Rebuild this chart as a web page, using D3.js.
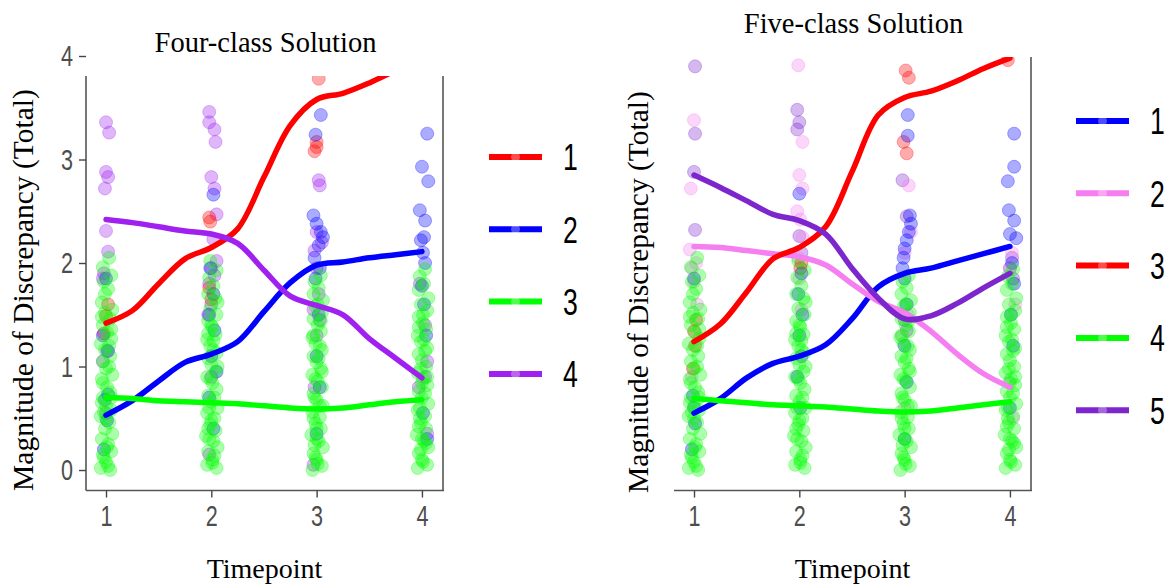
<!DOCTYPE html>
<html lang="en">
<head>
<meta charset="utf-8">
<title>Latent class trajectories</title>
<style>
  * { margin: 0; padding: 0; box-sizing: border-box; }
  body { background: #fff; overflow: hidden; }
  svg { display: block; }
  .serif { font-family: "Liberation Serif", "Times New Roman", serif; fill: #000; }
  .tick text { font-family: "Liberation Sans", Arial, sans-serif; fill: #4d4d4d; }
  .leg-label { font-family: "Liberation Sans", Arial, sans-serif; fill: #000; }
</style>
</head>
<body>
<svg id="chart" width="1165" height="587"></svg>
<script src="https://cdn.jsdelivr.net/npm/d3@7"></script>
<script>
// ---- data ----
const timepoints = [1, 2, 3, 4];
const yTicks = [0, 1, 2, 3, 4];
// smoothed class means, sampled every quarter timepoint
const curveT = [1, 1.25, 1.5, 1.75, 2, 2.25, 2.5, 2.75, 3, 3.25, 3.5, 3.75, 4];

const fourLabels = ["1", "2", "3", "4"];
const fourColors = ["#ff0000", "#0000ff", "#00ff00", "#a020f0"];
const four1 = [1.42, 1.54, 1.80, 2.04, 2.15, 2.33, 2.83, 3.33, 3.58, 3.64, 3.74, 3.86, 3.97];
const four2 = [0.53, 0.67, 0.86, 1.04, 1.12, 1.24, 1.53, 1.81, 1.98, 2.01, 2.05, 2.08, 2.11];
const four3 = [0.70, 0.69, 0.67, 0.66, 0.65, 0.64, 0.62, 0.60, 0.59, 0.60, 0.63, 0.66, 0.68];
const four4 = [2.42, 2.39, 2.35, 2.31, 2.28, 2.19, 1.93, 1.68, 1.59, 1.50, 1.27, 1.08, 0.89];

const fiveLabels = ["1", "2", "3", "4", "5"];
const fiveColors = ["#0000ff", "#f57ef0", "#ff0000", "#00ff00", "#7d26cd"];
const five1 = [0.55, 0.69, 0.89, 1.03, 1.10, 1.21, 1.46, 1.77, 1.90, 1.95, 2.02, 2.09, 2.16];
const five2 = [2.16, 2.15, 2.12, 2.09, 2.06, 1.98, 1.80, 1.63, 1.52, 1.34, 1.12, 0.93, 0.80];
const five3 = [1.24, 1.41, 1.72, 2.04, 2.15, 2.35, 2.88, 3.43, 3.60, 3.66, 3.76, 3.88, 3.98];
const five4 = [0.69, 0.67, 0.65, 0.63, 0.62, 0.61, 0.59, 0.57, 0.56, 0.57, 0.60, 0.63, 0.66];
const five5 = [2.85, 2.73, 2.60, 2.47, 2.41, 2.28, 1.95, 1.66, 1.46, 1.49, 1.61, 1.76, 1.90];

// individual observations: [jittered timepoint, value]
const greenObs = [
  [0.95,0.02],[1.04,0.00],[1.00,0.08],[0.97,0.15],[1.05,0.18],[1.02,0.25],[0.96,0.30],[1.06,0.35],[0.99,0.40],[1.03,0.46],
  [0.95,0.52],[1.05,0.58],[1.00,0.62],[0.97,0.70],[1.04,0.75],[1.01,0.80],[0.96,0.88],[1.06,0.92],[1.00,0.98],[0.97,1.05],
  [1.04,1.10],[0.99,1.16],[0.95,1.22],[1.05,1.27],[1.01,1.33],[0.97,1.40],[1.04,1.46],[0.99,1.52],[1.06,1.55],[0.96,1.62],
  [1.02,1.75],[0.98,1.82],[1.05,1.88],[0.97,1.96],[1.03,2.05],[1.00,0.50],[0.98,0.12],[1.03,1.00],[0.96,0.65],[1.05,1.36],
  [1.01,0.22],[0.97,0.84],[1.03,1.20],[0.99,1.70],[1.02,0.04],[0.98,0.56],[1.05,0.70],[0.96,1.48],
  [1.96,0.05],[2.05,0.02],[2.01,0.10],[1.97,0.18],[2.06,0.22],[2.02,0.28],[1.95,0.33],[2.04,0.38],[1.99,0.44],[2.03,0.50],
  [1.96,0.55],[2.06,0.60],[2.00,0.66],[1.97,0.72],[2.05,0.78],[2.01,0.84],[1.96,0.90],[2.04,0.95],[2.00,1.02],[1.97,1.08],
  [2.05,1.13],[1.99,1.20],[1.96,1.26],[2.04,1.31],[2.01,1.38],[1.97,1.44],[2.05,1.50],[1.99,1.56],[2.06,1.62],[1.97,1.70],
  [2.02,1.78],[1.98,1.86],[2.05,1.93],[1.99,2.02],[2.03,0.14],[1.98,0.60],[2.02,1.25],[1.97,0.40],[2.06,1.00],[2.00,1.40],
  [2.01,0.07],[1.98,0.30],[2.03,0.70],[1.99,0.88],[2.02,1.16],[1.97,1.32],[2.04,1.66],[2.00,0.48],
  [2.96,0.00],[3.05,0.04],[3.00,0.10],[2.97,0.16],[3.06,0.22],[3.02,0.28],[2.95,0.34],[3.04,0.40],[2.99,0.45],[3.03,0.51],
  [2.96,0.56],[3.06,0.62],[3.00,0.68],[2.97,0.74],[3.05,0.80],[3.01,0.86],[2.96,0.92],[3.04,0.98],[3.00,1.04],[2.97,1.10],
  [3.05,1.16],[2.99,1.22],[2.96,1.28],[3.04,1.34],[3.01,1.40],[2.97,1.46],[3.05,1.52],[2.99,1.58],[3.06,1.64],[2.97,1.70],
  [3.02,1.76],[2.98,1.82],[3.04,1.88],[3.00,0.30],[2.98,0.70],[3.03,1.20],[2.97,0.50],[3.05,0.95],[3.01,1.60],[2.99,0.12],
  [3.01,0.06],[2.98,0.24],[3.03,0.62],[2.99,0.88],[3.02,1.08],[2.97,1.30],[3.04,1.44],[3.00,0.40],
  [3.96,0.02],[4.05,0.05],[4.00,0.10],[3.97,0.16],[4.06,0.22],[4.02,0.28],[3.95,0.34],[4.04,0.40],[3.99,0.46],[4.03,0.52],
  [3.96,0.58],[4.06,0.64],[4.00,0.70],[3.97,0.76],[4.05,0.82],[4.01,0.88],[3.96,0.94],[4.04,1.00],[4.00,1.06],[3.97,1.12],
  [4.05,1.18],[3.99,1.24],[3.96,1.30],[4.04,1.36],[4.01,1.42],[3.97,1.48],[4.05,1.54],[3.99,1.60],[4.06,1.66],[3.97,1.74],
  [4.02,1.80],[3.98,1.87],[4.03,1.94],[4.00,0.30],[3.98,0.60],[4.03,1.15],[3.97,0.42],[4.05,0.90],[4.01,1.50],[3.99,0.20],
  [4.01,0.08],[3.98,0.50],[4.03,0.74],[3.99,0.98],[4.02,1.26],[3.97,1.38],[4.04,0.26],[4.00,0.84]
];

const fourObs1 = [[1.00,1.49],[0.98,1.32],[1.02,1.60],[1.98,2.44],[1.99,2.40],[1.98,1.76],[2.00,1.65],
  [3.02,3.78],[3.00,3.17],[2.98,3.08],[3.00,3.12]];
const fourObs2 = [[1.00,1.85],[1.02,0.73],[0.99,0.68],[1.01,0.48],[0.98,0.20],[0.97,1.30],[1.02,1.15],
  [2.02,2.66],[1.99,1.95],[2.02,1.70],[1.98,1.50],[2.03,1.35],[2.00,1.10],[2.05,0.95],[1.98,0.70],[2.02,0.40],
  [3.04,3.43],[2.99,3.24],[2.97,2.46],[3.00,2.38],[3.04,2.30],[3.06,2.25],[3.02,2.17],[2.98,2.05],[3.03,1.95],
  [2.99,1.85],[3.02,1.50],[3.00,1.10],[3.03,0.80],[3.00,0.35],
  [4.05,3.25],[4.00,2.93],[4.06,2.79],[3.98,2.51],[4.03,2.41],[4.02,2.25],[3.99,2.22],[4.01,2.10],[4.03,2.00],
  [4.00,1.78],[4.02,1.60],[4.04,1.30],[4.01,0.55],[4.05,0.30]];
const fourObs4 = [[1.00,3.36],[1.03,3.26],[1.00,2.88],[1.02,2.83],[0.99,2.72],[1.00,2.31],[1.02,2.11],[0.98,1.90],
  [0.97,1.85],[1.01,1.15],[0.97,1.05],[1.00,0.55],
  [1.98,3.46],[1.98,3.36],[2.03,3.29],[2.04,3.17],[2.00,2.83],[2.03,2.72],[2.05,2.47],[2.02,2.23],[2.05,2.02],
  [2.00,1.95],[2.03,1.88],[1.98,1.80],[2.00,1.60],[1.97,1.50],[2.00,0.90],[1.98,0.15],
  [3.02,2.80],[3.03,2.75],[3.00,2.30],[3.05,2.20],[2.98,2.12],[3.00,1.95],[3.02,1.70],[2.97,1.55],[3.03,1.45],
  [3.00,1.30],[2.98,0.80],[2.97,0.05],
  [3.98,1.80],[4.03,1.40],[4.05,1.05],[4.03,0.90],[3.97,0.80],[4.05,0.35]];

const fiveObs1 = [[1.00,1.85],[0.99,0.72],[1.00,0.60],[1.01,0.45],[0.98,0.20],
  [2.00,2.67],[2.02,1.90],[1.99,1.70],[2.03,1.50],[2.00,1.30],[2.02,1.10],[1.98,0.90],[2.01,0.60],
  [3.03,3.43],[3.03,3.23],[3.05,2.46],[3.06,2.38],[3.04,2.30],[3.02,2.22],[3.00,2.14],[2.99,2.05],[2.98,1.95],
  [3.00,1.85],[3.02,1.60],[3.00,1.20],[3.02,0.85],[3.00,0.30],
  [4.04,3.25],[4.04,2.93],[3.98,2.79],[3.99,2.51],[4.04,2.41],[4.06,2.24],[4.00,2.28],[4.02,2.00],[4.04,1.80],
  [4.01,1.50],[4.03,1.20],[4.00,0.60]];
const fiveObs2 = [[1.00,3.38],[0.97,2.72],[0.96,2.13],[1.02,2.00],[0.98,1.95],[1.00,1.82],[1.03,1.60],[0.98,0.90],
  [1.99,3.91],[2.03,3.17],[2.00,2.85],[2.03,2.72],[1.98,2.50],[2.01,2.42],[2.03,2.25],[1.99,2.05],[2.00,1.85],[2.02,1.55],
  [3.04,2.75],[3.06,2.30],[3.00,2.10],[3.03,1.50],[2.98,1.30],[3.00,0.60],
  [4.02,2.10],[4.00,1.95],[4.05,1.60],[3.99,0.85],[4.03,0.50]];
const fiveObs3 = [[1.00,1.34],[1.02,1.45],[0.99,0.98],[1.01,1.20],[2.01,1.95],[2.02,2.00],
  [3.01,3.86],[3.04,3.79],[2.99,3.17],[3.02,3.06],[3.98,3.96]];
const fiveObs5 = [[1.01,3.90],[1.01,3.25],[1.00,2.88],[1.01,2.32],
  [1.98,3.48],[2.00,3.36],[1.98,3.29],[2.00,2.26],[2.02,2.10],
  [2.98,2.80],[3.02,2.45],[3.00,1.45],[3.02,1.35],
  [4.02,2.05],[4.00,1.95],[4.03,1.85]];

// ---- drawing ----
const svg = d3.select("#chart");
const narrow = 0.72; // the original uses a condensed sans; squeeze horizontally

function drawPanel(p) {
  const x = d3.scaleLinear().domain([0.81, 4.2]).range([p.left, p.right]);
  const y = d3.scaleLinear().domain([-0.193, 4]).range([490, 56]);
  const g = svg.append("g");

  g.append("defs").append("clipPath").attr("id", "clip-" + p.id)
    .append("rect")
    .attr("x", p.left).attr("y", p.clipTop)
    .attr("width", p.right - p.left).attr("height", 490 - p.clipTop);

  const plot = g.append("g").attr("clip-path", "url(#clip-" + p.id + ")");

  // points: other classes first, green on top
  p.obs.forEach(([pts, ci]) => {
    plot.append("g").selectAll("circle")
      .data(pts).join("circle")
      .attr("cx", d => x(d[0])).attr("cy", d => y(d[1]))
      .attr("r", 6.5)
      .attr("fill", p.colors[ci]).attr("fill-opacity", 0.33)
      .attr("stroke", p.colors[ci]).attr("stroke-opacity", 0.3);
  });

  const line = d3.line()
    .x((d, i) => x(curveT[i]))
    .y(d => y(d))
    .curve(d3.curveCatmullRom.alpha(0.5));

  p.series.forEach((s, i) => {
    plot.append("path")
      .attr("d", line(s))
      .attr("fill", "none")
      .attr("stroke", p.colors[i])
      .attr("stroke-width", 5.5)
      .attr("stroke-linecap", "round");
  });

  // frame: bottom, right, optional left
  const frame = g.append("g").attr("stroke", "#555").attr("stroke-width", 1.6);
  frame.append("line").attr("x1", p.left).attr("x2", p.right + 1).attr("y1", 490.5).attr("y2", 490.5);
  frame.append("line").attr("x1", p.right).attr("x2", p.right).attr("y1", p.clipTop).attr("y2", 490.5);
  if (p.yAxis) {
    frame.append("line").attr("x1", p.left).attr("x2", p.left).attr("y1", p.clipTop).attr("y2", 490.5);
    const ya = g.append("g").attr("transform", `translate(${p.left},0)`)
      .call(d3.axisLeft(y).tickValues(yTicks).tickFormat(d3.format("d")).tickSize(7).tickPadding(0));
    ya.select(".domain").remove();
    ya.selectAll(".tick line").attr("stroke", "#444").attr("stroke-width", 1.4);
    ya.selectAll(".tick text").attr("x", null)
      .attr("transform", `translate(-13,0) scale(${narrow},1)`)
      .style("font-size", "30px");
  }

  const xa = g.append("g").attr("transform", "translate(0,490.5)")
    .call(d3.axisBottom(x).tickValues(timepoints).tickFormat(d3.format("d")).tickSize(7).tickPadding(7));
  xa.select(".domain").remove();
  xa.selectAll(".tick line").attr("stroke", "#444").attr("stroke-width", 1.4);
  xa.selectAll(".tick text").attr("transform", `scale(${narrow},1)`).style("font-size", "30px");

  // titles
  g.append("text").attr("class", "serif")
    .attr("x", (p.left + p.right) / 2 + 1).attr("y", p.titleY)
    .attr("text-anchor", "middle").style("font-size", "28.5px")
    .text(p.title);
  g.append("text").attr("class", "serif")
    .attr("x", (p.left + p.right) / 2).attr("y", 578)
    .attr("text-anchor", "middle").style("font-size", "28px")
    .text("Timepoint");
  g.append("text").attr("class", "serif")
    .attr("transform", `translate(${p.yTitleX},${p.yTitleY}) rotate(-90)`)
    .attr("text-anchor", "middle").style("font-size", "29.5px")
    .text("Magnitude of Discrepancy (Total)");

  // legend
  const leg = g.append("g").selectAll("g")
    .data(p.labels).join("g")
    .attr("transform", (d, i) => `translate(${p.legX},${p.legY + i * 72.3})`);
  leg.append("line")
    .attr("x1", 0).attr("x2", 53)
    .attr("stroke", (d, i) => p.colors[i]).attr("stroke-width", 6);
  leg.append("circle")
    .attr("cx", 26.5).attr("r", 4.5)
    .attr("fill", "#fff").attr("fill-opacity", 0.3);
  leg.append("text").attr("class", "leg-label")
    .attr("transform", `translate(74,0) scale(${narrow},1)`)
    .attr("dy", "0.36em")
    .style("font-size", "37px")
    .text(d => d);
}

drawPanel({
  id: "four", left: 86, right: 443, clipTop: 76, titleY: 52, yAxis: true,
  yTitleX: 33, yTitleY: 290, legX: 489, legY: 157,
  title: "Four-class Solution", labels: fourLabels, colors: fourColors,
  series: [four1, four2, four3, four4],
  obs: [[fourObs4, 3], [fourObs1, 0], [fourObs2, 1], [greenObs, 2]]
});

drawPanel({
  id: "five", left: 674, right: 1031, clipTop: 57, titleY: 33, yAxis: false,
  yTitleX: 648, yTitleY: 292, legX: 1076, legY: 121,
  title: "Five-class Solution", labels: fiveLabels, colors: fiveColors,
  series: [five1, five2, five3, five4, five5],
  obs: [[fiveObs5, 4], [fiveObs2, 1], [fiveObs3, 2], [fiveObs1, 0], [greenObs, 3]]
});
</script>
</body>
</html>
